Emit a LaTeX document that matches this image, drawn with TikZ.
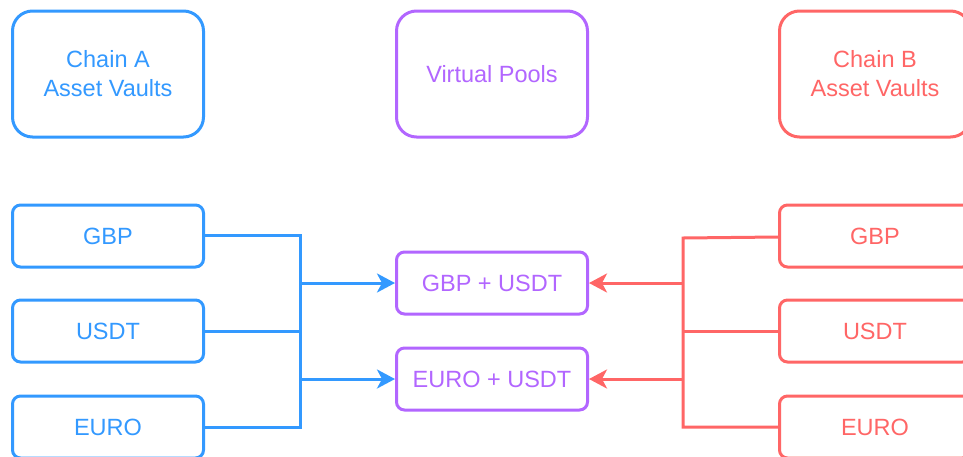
\documentclass[tikz,border=0pt]{standalone}
\usepackage{fontspec}
\setmainfont{Liberation Sans}
\usetikzlibrary{arrows.meta,positioning,calc}

\definecolor{chainA}{HTML}{3399FF}
\definecolor{chainB}{HTML}{FF6666}
\definecolor{pool}{HTML}{B266FF}

\tikzset{
  vault/.style={draw, fill=white, line width=3pt, rounded corners=8pt,
    minimum width=191pt, minimum height=62pt, inner sep=0pt,
    font=\fontsize{23.5}{29}\selectfont},
  header/.style={vault, rounded corners=20pt, minimum height=126pt, align=center},
  sideA/.style={draw=chainA, text=chainA},
  sideB/.style={draw=chainB, text=chainB},
  sideP/.style={draw=pool, text=pool},
  link/.style={line width=3pt},
  feed/.style={link, -{Stealth[length=18pt, width=19pt, inset=5pt]}},
}

\begin{document}
\begin{tikzpicture}[x=1pt, y=-1pt]
        \useasboundingbox (0,0) rectangle (963,456);
        \clip (0,0) rectangle (963,456);

        %%%% Headers ====================================
        \node[header, sideA] (hA) at (108, 74) {Chain A\\Asset Vaults};
        \node[header, sideP] (hP) at (492, 74) {Virtual Pools};
        \node[header, sideB] (hB) at (875, 74) {Chain B\\Asset Vaults};

        %%%% Chain A ====================================
        \node[vault, sideA] (gbpA) at (108, 236) {GBP};
        \node[vault, sideA] (usdtA) at (108, 331) {USDT};
        \node[vault, sideA] (euroA) at (108, 427) {EURO};

        %%%% Pools ======================================
        \node[vault, sideP] (gbpusdt) at (492, 283) {GBP + USDT};
        \node[vault, sideP] (eurousdt) at (492, 379) {EURO + USDT};

        %%%% Chain B ====================================
        \node[vault, sideB] (gbpB) at (875, 236) {GBP};
        \node[vault, sideB] (usdtB) at (875, 331) {USDT};
        \node[vault, sideB] (euroB) at (875, 427) {EURO};

        % Junctions
        \coordinate (jA1) at (300, 235);
        \coordinate (jA3) at (300, 427);
        \coordinate (jB1) at (683, 238);
        \coordinate (jB3) at (683, 427);

        % Arcs
        \draw[link, chainA] (gbpA.east |- jA1) -- (jA1) -- (jA3) -- (euroA.east);
        \draw[link, chainA] (usdtA.east) -- (usdtA.east -| jA1);
        \draw[feed, chainA] (jA1 |- gbpusdt.west) -- (gbpusdt.west);
        \draw[feed, chainA] (jA1 |- eurousdt.west) -- (eurousdt.west);

        \draw[link, chainB] ([yshift=-1pt]gbpB.west) -- (jB1) -- (jB3) -- (euroB.west);
        \draw[link, chainB] (usdtB.west) -- (usdtB.west -| jB1);
        \draw[feed, chainB] (jB1 |- gbpusdt.east) -- (gbpusdt.east);
        \draw[feed, chainB] (jB1 |- eurousdt.east) -- (eurousdt.east);
    \end{tikzpicture}
\end{document}
